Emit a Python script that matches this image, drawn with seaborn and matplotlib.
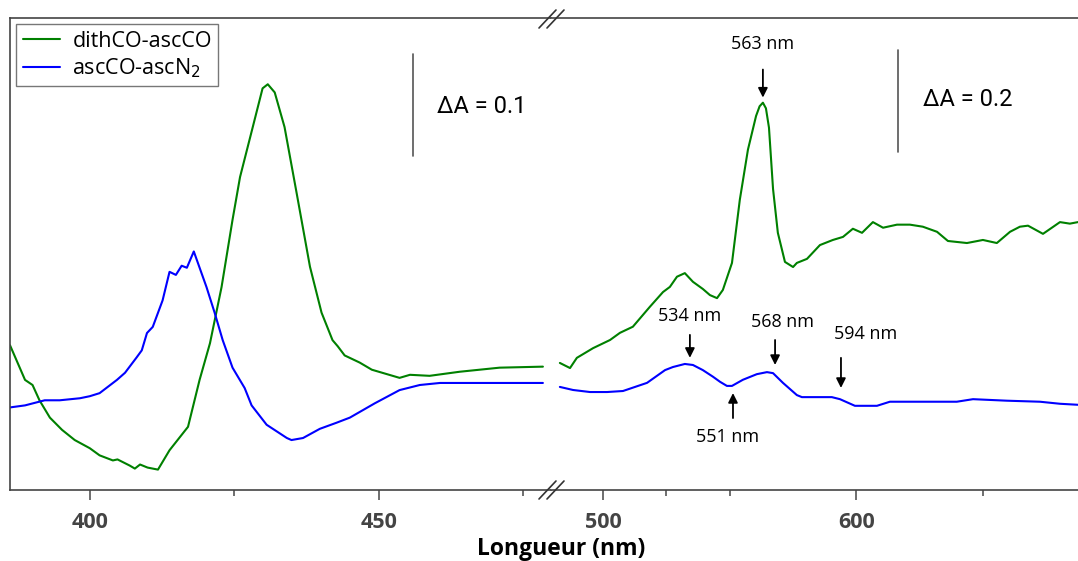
import numpy as np
import pandas as pd
import matplotlib.pyplot as plt
from matplotlib.lines import Line2D
import seaborn as sns

# -------------------------------
# Data
# -------------------------------
# left panel (Soret region), dA scale 0.1
wl_green_left = [386.2, 388.8, 390.1, 391.3, 393.1, 395.2, 397.4, 400.0, 401.7, 404.0,
                 404.8, 406.9, 407.8, 408.7, 410.0, 411.8, 413.8, 417.0, 419.0, 420.8,
                 422.8, 424.7, 426.0, 428.2, 429.9, 430.8, 432.0, 433.7, 435.8, 438.1,
                 440.1, 442.0, 442.9, 444.1, 446.7, 448.8, 453.6, 455.4, 458.8, 464.0,
                 470.9, 478.4]
abs_green_left = [0.142, 0.108, 0.103, 0.088, 0.071, 0.059, 0.049, 0.041, 0.034, 0.029,
                  0.030, 0.024, 0.021, 0.025, 0.022, 0.020, 0.039, 0.062, 0.108, 0.144,
                  0.199, 0.265, 0.307, 0.356, 0.394, 0.398, 0.390, 0.356, 0.291, 0.219,
                  0.174, 0.147, 0.141, 0.132, 0.125, 0.118, 0.110, 0.113, 0.112, 0.116,
                  0.120, 0.121]

wl_blue_left = [386.2, 388.8, 392.2, 394.8, 398.3, 400.0, 401.7, 404.7, 406.1, 408.1,
                409.0, 409.9, 410.9, 412.6, 413.8, 414.9, 415.9, 416.8, 418.0, 420.2,
                421.6, 423.0, 424.7, 426.8, 428.0, 430.6, 434.1, 434.9, 436.9, 439.8,
                442.7, 445.0, 449.3, 453.6, 457.1, 460.6, 478.4]
abs_blue_left = [0.081, 0.083, 0.088, 0.088, 0.090, 0.092, 0.095, 0.108, 0.115, 0.130,
                 0.137, 0.154, 0.160, 0.186, 0.214, 0.211, 0.220, 0.218, 0.234, 0.199,
                 0.174, 0.147, 0.120, 0.100, 0.083, 0.064, 0.051, 0.049, 0.051, 0.060,
                 0.066, 0.071, 0.085, 0.098, 0.103, 0.105, 0.105]

# right panel (Q bands), dA scale 0.2
wl_green_right = [483.0, 487.0, 489.7, 496.1, 502.8, 506.7, 511.8, 518.5, 523.7, 526.4,
                  529.2, 532.3, 535.5, 539.4, 542.2, 545.0, 547.3, 550.9, 554.0, 557.2,
                  560.4, 561.8, 563.1, 564.3, 565.5, 567.1, 569.0, 571.8, 575.0, 576.5,
                  580.5, 585.6, 590.7, 594.7, 598.6, 602.2, 606.5, 610.5, 616.0, 621.1,
                  626.2, 631.8, 636.1, 643.6, 649.9, 655.4, 660.6, 664.5, 667.7, 673.6,
                  677.1, 680.3, 684.2, 687.4]
abs_green_right = [0.249, 0.239, 0.259, 0.278, 0.294, 0.308, 0.320, 0.359, 0.388, 0.398,
                   0.418, 0.425, 0.408, 0.394, 0.382, 0.376, 0.392, 0.445, 0.569, 0.667,
                   0.733, 0.752, 0.759, 0.748, 0.710, 0.590, 0.504, 0.447, 0.437, 0.445,
                   0.453, 0.480, 0.490, 0.496, 0.512, 0.504, 0.525, 0.514, 0.520, 0.520,
                   0.516, 0.506, 0.488, 0.484, 0.490, 0.484, 0.506, 0.516, 0.518, 0.502,
                   0.514, 0.525, 0.522, 0.525]

wl_blue_right = [483.0, 488.2, 494.9, 501.6, 507.9, 517.4, 524.5, 527.6, 532.3, 535.5,
                 539.4, 543.4, 546.2, 548.9, 550.9, 555.2, 560.7, 564.7, 567.1, 571.0,
                 576.5, 578.5, 582.8, 590.3, 593.5, 599.4, 608.1, 613.2, 639.6, 646.0,
                 659.4, 672.4, 680.3, 687.4]
abs_blue_right = [0.202, 0.196, 0.192, 0.192, 0.194, 0.210, 0.235, 0.241, 0.247, 0.245,
                  0.235, 0.222, 0.212, 0.204, 0.204, 0.216, 0.227, 0.231, 0.229, 0.210,
                  0.186, 0.182, 0.182, 0.182, 0.178, 0.165, 0.165, 0.173, 0.173, 0.178,
                  0.175, 0.173, 0.169, 0.167]

series_names = ["dithCO-ascCO", "ascCO-ascN$_2$"]
series_colors = ["#008000", "#0000ff"]

# peak labels: (text, arrow x, text y, arrow start y, arrow end y)
peak_labels = [("563 nm", 563.1, 0.875, 0.824, 0.769),
               ("534 nm", 534.3, 0.341, 0.304, 0.259),
               ("568 nm", 567.9, 0.329, 0.294, 0.245),
               ("594 nm", 593.9, 0.306, 0.259, 0.200),
               ("551 nm", 551.3, 0.104, 0.141, 0.190)]
label_x_text = [563.1, 534.3, 571.0, 603.7, 549.3]

# -------------------------------
# Figure
# -------------------------------
sns.set_style("ticks")
plt.rcParams['font.family'] = ['Open Sans', 'DejaVu Sans']
plt.rcParams['text.color'] = 'black'

fig = plt.figure(figsize=(10.78, 5.61), dpi=100)
ax1 = fig.add_axes([10 / 1078, 1 - 490 / 561, 541 / 1078, 472 / 561])
ax2 = fig.add_axes([551 / 1078, 1 - 490 / 561, 530 / 1078, 472 / 561])

df_left = pd.concat([
    pd.DataFrame({"wl": wl_green_left, "A": abs_green_left, "s": series_names[0]}),
    pd.DataFrame({"wl": wl_blue_left, "A": abs_blue_left, "s": series_names[1]}),
])
df_right = pd.concat([
    pd.DataFrame({"wl": wl_green_right, "A": abs_green_right, "s": series_names[0]}),
    pd.DataFrame({"wl": wl_blue_right, "A": abs_blue_right, "s": series_names[1]}),
])

pal = dict(zip(series_names, series_colors))
sns.lineplot(data=df_left, x="wl", y="A", hue="s", palette=pal, estimator=None,
             linewidth=1.5, ax=ax1, legend=True)
sns.lineplot(data=df_right, x="wl", y="A", hue="s", palette=pal, estimator=None,
             linewidth=1.5, ax=ax2, legend=False)

ax1.set_xlim(386.2, 479.8)
ax1.set_ylim(0, 0.463)
ax2.set_xlim(479.5, 688.6)
ax2.set_ylim(0, 0.925)

ax1.set_xticks([400, 450])
ax1.set_xticks([425, 475], minor=True)
ax2.set_xticks([500, 600])
ax2.set_xticks([525, 550, 650], minor=True)

tick_kw = dict(direction="out", colors="#555555", labelcolor="#444444", width=1.2)
for ax in (ax1, ax2):
    ax.set_xlabel("")
    ax.set_ylabel("")
    ax.set_yticks([])
    for sp in ax.spines.values():
        sp.set_color("#444444")
        sp.set_linewidth(1.2)
    ax.tick_params(axis="x", which="major", length=7, labelsize=15.5, pad=9, **tick_kw)
    ax.tick_params(axis="x", which="minor", length=4, **tick_kw)
    for lab in ax.get_xticklabels():
        lab.set_fontweight("bold")
ax1.spines["right"].set_visible(False)
ax2.spines["left"].set_visible(False)
ax2.spines["right"].set_visible(False)

leg = ax1.legend(loc="upper left", fontsize=15.5, frameon=True, fancybox=False,
                 handlelength=1.7, borderaxespad=0.3, labelspacing=0.2,
                 handletextpad=0.6, borderpad=0.3)
leg.get_frame().set_edgecolor("#555555")
leg.get_frame().set_linewidth(1.0)
for t in leg.get_texts():
    t.set_color("black")

# scale bars
ax1.plot([455.9, 455.9], [0.328, 0.428], color="#555555", lw=1.2)
ax1.text(460.0, 0.376, "ΔA = 0.1", fontsize=17, va="center", ha="left",
         family=["Roboto", "DejaVu Sans"])
ax2.plot([616.4, 616.4], [0.663, 0.863], color="#555555", lw=1.2)
ax2.text(626.2, 0.765, "ΔA = 0.2", fontsize=17, va="center", ha="left",
         family=["Roboto", "DejaVu Sans"])

# peak labels with arrows
for (txt, x, ty, y0, y1), tx in zip(peak_labels, label_x_text):
    ax2.annotate("", xy=(x, y1), xytext=(x, y0),
                 arrowprops=dict(arrowstyle="-|>", color="black", lw=1.3,
                                 mutation_scale=14, shrinkA=0, shrinkB=0))
    ax2.text(tx, ty, txt, fontsize=13, ha="center", va="center")

# axis break marks
for yb in (1 - 19 / 561, 1 - 490 / 561):
    for dx in (0, 8):
        x0 = (539 + dx) / 1078
        fig.add_artist(Line2D([x0, x0 + 17 / 1078], [yb - 9 / 561, yb + 9 / 561],
                              color="#333333", lw=1.2))

fig.text(561 / 1078, 1 - 549 / 561, "Longueur (nm)", fontsize=16.5, fontweight="bold",
         ha="center", va="center")

plt.savefig("out.png", dpi=100)
